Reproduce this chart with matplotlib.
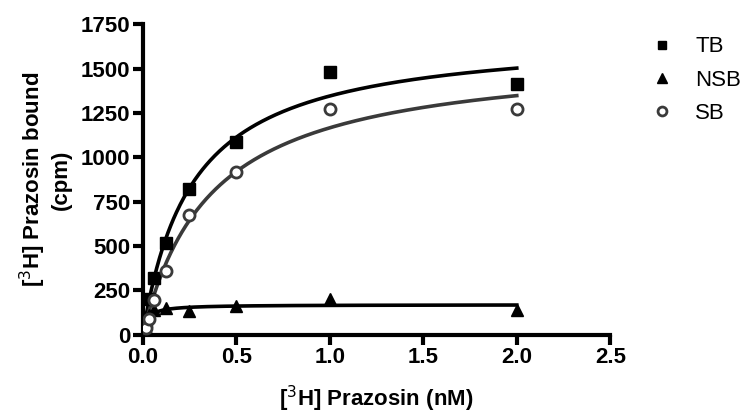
import numpy as np
import matplotlib.pyplot as plt

# 数据
conc = [0.0156, 0.03125, 0.0625, 0.125, 0.25, 0.5, 1.0, 2.0]
tb = [80, 200, 320, 520, 820, 1085, 1480, 1415]
nsb = [40, 110, 140, 150, 135, 160, 200, 140]
sb = [40, 90, 195, 360, 675, 915, 1270, 1270]


# 单位点结合拟合 B = Bmax*x/(Kd+x)，Kd 网格搜索，Bmax 最小二乘
def fit_one_site(x, y):
    x = np.asarray(x, float)
    y = np.asarray(y, float)
    best = None
    for kd in np.logspace(-4, 1, 4000):
        f = x / (kd + x)
        bmax = np.dot(f, y) / np.dot(f, f)
        err = np.sum((y - bmax * f) ** 2)
        if best is None or err < best[0]:
            best = (err, bmax, kd)
    return best[1], best[2]


plt.rcParams['font.family'] = ['Liberation Sans', 'DejaVu Sans']

fig = plt.figure(figsize=(7.47, 4.16), dpi=100)
ax = fig.add_axes([0.191, 0.195, 0.626, 0.747])

xs = np.linspace(0, 2.0, 400)
grey = '#3a3a3a'

for y, col in [(tb, 'black'), (nsb, 'black'), (sb, grey)]:
    bmax, kd = fit_one_site(conc, y)
    ax.plot(xs, bmax * xs / (kd + xs), color=col, lw=2.6, zorder=2)

ax.plot(conc, tb, 's', color='black', ms=8, ls='none', label='TB', zorder=3)
ax.plot(conc, nsb, '^', color='black', ms=8.5, ls='none', label='NSB', zorder=3)
ax.plot(conc, sb, 'o', mfc='white', mec=grey, mew=2, ms=8, ls='none', label='SB', zorder=3)

ax.set_xlim(0, 2.5)
ax.set_ylim(0, 1750)
ax.set_xticks([0, 0.5, 1.0, 1.5, 2.0, 2.5])
ax.set_xticklabels(['0.0', '0.5', '1.0', '1.5', '2.0', '2.5'])
ax.set_yticks([0, 250, 500, 750, 1000, 1250, 1500, 1750])

for s in ['top', 'right']:
    ax.spines[s].set_visible(False)
for s in ['left', 'bottom']:
    ax.spines[s].set_linewidth(3)
ax.tick_params(width=3, length=7, labelsize=16, pad=2)
for lab in ax.get_xticklabels() + ax.get_yticklabels():
    lab.set_fontweight('bold')

ax.set_xlabel('[$^3$H] Prazosin (nM)', fontsize=16, fontweight='bold', labelpad=11)
ax.set_ylabel('[$^3$H] Prazosin bound\n(cpm)', fontsize=16, fontweight='bold', labelpad=6)

leg = ax.legend(loc='upper left', bbox_to_anchor=(1.03, 1.025), frameon=False,
                fontsize=16, handletextpad=0.7, handlelength=1.6,
                labelspacing=0.55, markerscale=0.8)

fig.savefig('out.png', dpi=100)
